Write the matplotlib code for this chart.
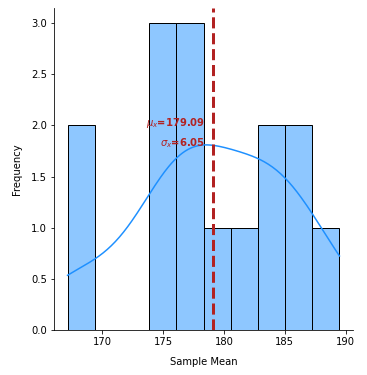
import numpy as np
import matplotlib
matplotlib.use("Agg")
import matplotlib.pyplot as plt
import seaborn as sns

# sample means (15 samples)
sample_means = [167.16, 168.8, 175.05, 175.5, 176.0, 176.8, 177.5, 178.0,
                180.5, 182.7, 183.5, 184.3, 185.25, 185.8, 189.5]
n_bins = 10

mu = np.mean(sample_means)
sigma = np.std(sample_means)

fig = plt.figure(figsize=(367 / 72, 375 / 72), dpi=72)
ax = fig.add_axes([0.147, 0.12, 0.815, 0.859])

sns.histplot(sample_means, bins=n_bins, kde=True, color="dodgerblue",
             edgecolor="black", alpha=0.5, ax=ax, line_kws={"lw": 1.5})
ax.axvline(mu, color="firebrick", ls="--", lw=3)
ax.text(mu - 0.6, 2.02, r"$\mu_x$=%.2f" % mu, color="firebrick",
        ha="right", va="center", fontweight="bold")
ax.text(mu - 0.6, 1.83, r"$\sigma_x$=%.2f" % sigma, color="firebrick",
        ha="right", va="center", fontweight="bold")

ax.set_xlabel("Sample Mean", labelpad=10)
ax.set_ylabel("Frequency", labelpad=9)
ax.spines["top"].set_visible(False)
ax.spines["right"].set_visible(False)

fig.savefig("out.png", dpi=72)
